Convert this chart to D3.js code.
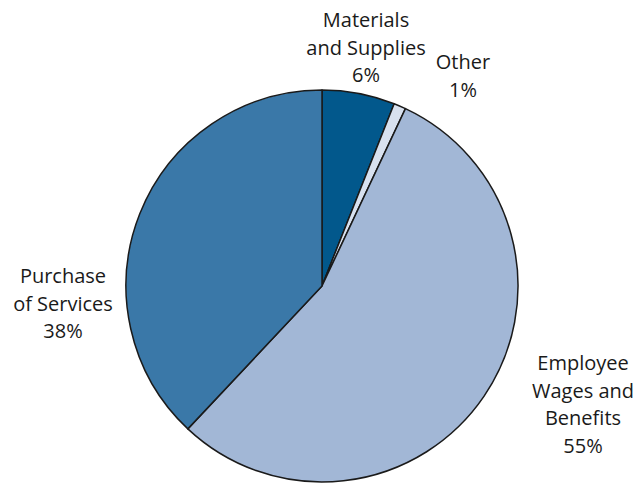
<!DOCTYPE html>
<html>
<head>
<meta charset="utf-8">
<script src="https://cdn.jsdelivr.net/npm/d3@7"></script>
<style>
  body { margin: 0; background: #fff; }
  text { font-family: "Open Sans", "Noto Sans", sans-serif; font-size: 20px; fill: #1a1a1a; }
</style>
</head>
<body>
<div id="chart"></div>
<script>
var categories = ["Materials and Supplies", "Other", "Employee Wages and Benefits", "Purchase of Services"]
var values = [6, 1, 55, 38]
var labelLines = [
  ["Materials", "and Supplies", "6%"],
  ["Other", "1%"],
  ["Employee", "Wages and", "Benefits", "55%"],
  ["Purchase", "of Services", "38%"]
]
var colors = ["#02588c", "#d8e1ef", "#a2b7d6", "#3a78a8"]

// label anchor spots (centre x, first baseline y)
var labelPos = [[366, 27], [463, 69], [583, 370], [63, 283]]

var width = 644, height = 495
var cx = 322, cy = 286, r = 196

var svg = d3.select("#chart").append("svg")
  .attr("width", width)
  .attr("height", height)

var pie = d3.pie().sort(null).value(d => d)
var arc = d3.arc().innerRadius(0).outerRadius(r)

var g = svg.append("g").attr("transform", `translate(${cx},${cy})`)

g.selectAll("path")
  .data(pie(values))
  .join("path")
  .attr("d", arc)
  .attr("fill", (d, i) => colors[i])
  .attr("stroke", "#1a1a1a")
  .attr("stroke-width", 1.5)
  .attr("stroke-linejoin", "round")

var lineH = 27.5

svg.selectAll("text.lbl")
  .data(labelLines)
  .join("text")
  .attr("class", "lbl")
  .attr("text-anchor", "middle")
  .each(function (lines, i) {
    var t = d3.select(this)
    lines.forEach(function (s, j) {
      t.append("tspan")
        .attr("x", labelPos[i][0])
        .attr("y", labelPos[i][1] + j * lineH)
        .text(s)
    })
  })
</script>
</body>
</html>
